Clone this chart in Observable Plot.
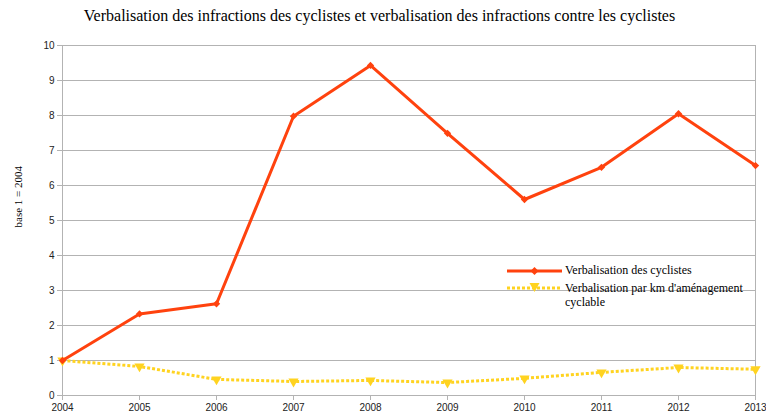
<!DOCTYPE html>
<html>
<head>
<meta charset="utf-8">
<script src="https://cdn.jsdelivr.net/npm/d3@7"></script>
<script src="https://cdn.jsdelivr.net/npm/@observablehq/plot@0.6"></script>
<style>
  body { margin: 0; background: #fff; }
  #wrap { position: relative; width: 766px; height: 417px; overflow: hidden; }
  #title { position: absolute; left: 0; top: 7px; width: 759px; text-align: center;
           font-family: 'Liberation Serif', 'Times New Roman', serif; font-size: 16px; color: #000; }
  #legend { position: absolute; left: 505px; top: 263px; font-family: 'Liberation Serif', serif;
            font-size: 12px; color: #000; line-height: 14px; }
  .item { display: flex; align-items: flex-start; margin-bottom: 4px; }
  .item svg { flex: none; margin-right: 3px; }
</style>
</head>
<body>
<div id="wrap">
  <div id="chart"></div>
  <div id="title"></div>
  <div id="legend"></div>
</div>
<script>
const title = "Verbalisation des infractions des cyclistes et verbalisation des infractions contre les cyclistes";
const yLabel = "base 1 = 2004";
const years = [2004, 2005, 2006, 2007, 2008, 2009, 2010, 2011, 2012, 2013];
const cyclistes = [1.00, 2.33, 2.62, 7.98, 9.43, 7.49, 5.60, 6.52, 8.05, 6.57];
const parKm = [1.00, 0.83, 0.46, 0.40, 0.43, 0.37, 0.49, 0.66, 0.80, 0.75];
const yTicks = [0, 1, 2, 3, 4, 5, 6, 7, 8, 9, 10];
const seriesNames = ["Verbalisation des cyclistes", "Verbalisation par km d'aménagement cyclable"];
const colors = ["#ff420e", "#ffd320"];

const d1 = years.map((x, i) => ({x, y: cyclistes[i]}));
const d2 = years.map((x, i) => ({x, y: parKm[i]}));

const chart = Plot.plot({
  width: 766, height: 417,
  marginTop: 45, marginBottom: 22, marginLeft: 62, marginRight: 11,
  style: {fontFamily: "'Liberation Sans', Arial, sans-serif", fontSize: "10px", background: "white", color: "#000"},
  x: {type: "linear", domain: [years[0], years[years.length - 1]]},
  y: {domain: [yTicks[0], yTicks[yTicks.length - 1]]},
  marks: [
    Plot.ruleY(yTicks, {stroke: "#b3b3b3", strokeWidth: 1}),
    Plot.ruleX([years[0], years[years.length - 1]], {stroke: "#b3b3b3", strokeWidth: 1}),
    Plot.axisX({ticks: years, tickFormat: d => String(d), tickSize: 5, tickPadding: 3, stroke: "#b3b3b3", fill: "#222", label: null}),
    Plot.axisY({ticks: yTicks, tickSize: 5, tickPadding: 3, stroke: "#b3b3b3", fill: "#222", label: null}),
    Plot.text([yLabel], {text: d => d, frameAnchor: "left", dx: -44, dy: 7, rotate: -90,
      fontFamily: "'Liberation Serif', serif", fontSize: 11, fill: "#000"}),
    Plot.line(d2, {x: "x", y: "y", stroke: colors[1], strokeWidth: 3, strokeDasharray: "3 2",
      strokeLinecap: "butt", strokeLinejoin: "miter"}),
    Plot.dot(d2, {x: "x", y: "y", symbol: "triangle", rotate: 180, fill: colors[1], r: 3.8}),
    Plot.line(d1, {x: "x", y: "y", stroke: colors[0], strokeWidth: 3}),
    Plot.dot(d1, {x: "x", y: "y", symbol: "diamond2", fill: colors[0], r: 3.3})
  ]
});
document.getElementById("chart").appendChild(chart);
document.getElementById("title").textContent = title;

const legend = document.getElementById("legend");
legend.innerHTML = `
  <div class="item">
    <svg width="57" height="14"><line x1="2" x2="57" y1="8" y2="8" stroke="${colors[0]}" stroke-width="3"/>
      <path d="M29.5 4 L33.5 8 L29.5 12 L25.5 8 Z" fill="${colors[0]}"/></svg>
    <span>${seriesNames[0]}</span>
  </div>
  <div class="item">
    <svg width="57" height="14"><line x1="2" x2="57" y1="7" y2="7" stroke="${colors[1]}" stroke-width="3" stroke-dasharray="3 2"/>
      <path d="M24.5 2 L34.5 2 L29.5 11 Z" fill="${colors[1]}"/></svg>
    <span style="width:185px">${seriesNames[1]}</span>
  </div>`;
</script>
</body>
</html>
